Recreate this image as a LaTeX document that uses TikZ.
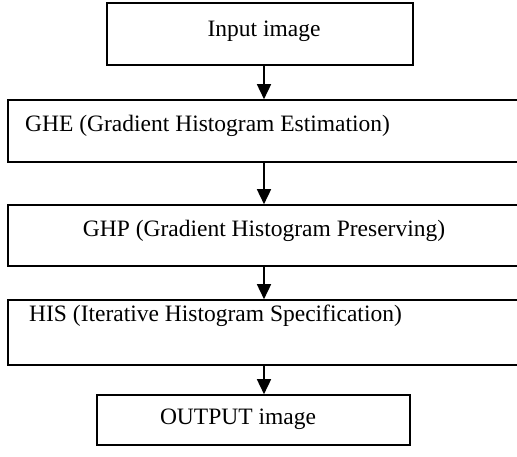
\documentclass[tikz,border=0pt]{standalone}
\usepackage{fontspec}
\setmainfont{Liberation Serif}
\usetikzlibrary{positioning}
\usetikzlibrary{calc}
\usetikzlibrary{arrows.meta}

\begin{document}
\begin{tikzpicture}[x=1pt, y=-1pt]
\tikzset{
    stage/.style={
        draw, line width=1.6pt, rectangle,
        inner sep=0pt,
    },
    caption/.style={
        font=\fontsize{23.5}{28}\selectfont,
        inner sep=0pt,
    },
    flow/.style={
        line width=1.6pt,
        -{Triangle[length=15pt, width=14pt]},
    },
}

\useasboundingbox (0, 0) rectangle (517, 457);
\clip (0, 0) rectangle (517, 457);

% boxes of the pipeline
\node[stage, minimum width=306pt, minimum height=62pt] at (260, 34) (input) {};
\node[stage, minimum width=512pt, minimum height=62pt] at (264, 131) (ghe) {};
\node[stage, minimum width=512pt, minimum height=61pt] at (264, 235.5) (ghp) {};
\node[stage, minimum width=512pt, minimum height=65pt] at (264, 332.5) (his) {};
\node[stage, minimum width=313pt, minimum height=50pt] at (253.5, 420) (output) {};

% their texts
\node[caption, anchor=base] at (264, 37) (input-text) {Input image};
\node[caption, anchor=base west] at (25, 132) (ghe-text) {GHE (Gradient Histogram Estimation)};
\node[caption, anchor=base] at (264, 237) (ghp-text) {GHP (Gradient Histogram Preserving)};
\node[caption, anchor=base west] at (29, 321) (his-text) {HIS (Iterative Histogram Specification)};
\node[caption, anchor=base] at (238, 424) (output-text) {OUTPUT image};

\draw[flow] (input.south -| ghe.north) -- (ghe.north);
\draw[flow] (ghe.south) -- (ghp.north);
\draw[flow] (ghp.south) -- (his.north);
\draw[flow] (his.south) -- (his.south |- output.north);
\end{tikzpicture}
\end{document}
